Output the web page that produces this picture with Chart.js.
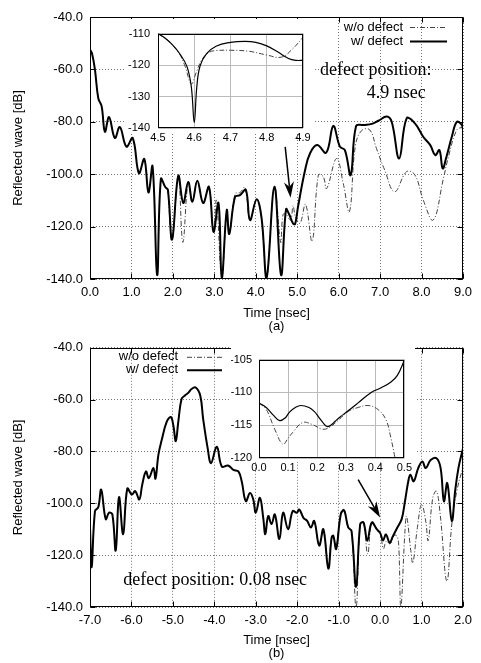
<!DOCTYPE html>
<html>
<head>
<meta charset="utf-8">
<script src="https://cdn.jsdelivr.net/npm/chart.js@4.4.0/dist/chart.umd.min.js"></script>
<style>
body { margin:0; background:#fff; width:481px; height:663px; position:relative; overflow:hidden; }
canvas { position:absolute; }
</style>
</head>
<body>
<canvas id="mainA" width="481" height="333" style="left:0px;top:0px"></canvas>
<canvas id="insetA" width="190" height="130" style="left:124px;top:19px"></canvas>
<canvas id="mainB" width="481" height="330" style="left:0px;top:333px"></canvas>
<canvas id="insetB" width="184" height="130" style="left:231px;top:346px"></canvas>
<script>
// (a) defect position 4.9 nsec
var aWithT = [0, 0.05, 0.12, 0.2, 0.28, 0.36, 0.46, 0.6, 0.72, 0.88, 1.03, 1.18, 1.31, 1.41, 1.51, 1.62, 1.71, 1.82, 1.88, 1.98, 2.13, 2.25, 2.37, 2.47, 2.59, 2.73, 2.87, 2.98, 3.1, 3.18, 3.3, 3.36, 3.5, 3.62, 3.76, 3.86, 4.02, 4.14, 4.26, 4.45, 4.61, 4.73, 4.81, 4.9, 4.95, 5.02, 5.19, 5.31, 5.48, 5.7, 5.87, 6.03, 6.15, 6.29, 6.42, 6.6, 6.8, 6.96, 7.16, 7.28, 7.46, 7.64, 7.84, 8.04, 8.21, 8.33, 8.43, 8.51, 8.59, 8.73, 8.85, 8.97, 9.0];
var aWithV = [-52.5, -54, -60.2, -71, -74, -83.8, -78.2, -86.2, -82, -89.5, -86.2, -99.6, -94.2, -107, -97, -138.5, -101.8, -105, -106, -125, -100.6, -111, -103, -110.5, -102.5, -111, -104.8, -122, -111, -139.6, -113.7, -122.8, -108.6, -108, -106, -117.5, -109.6, -116.8, -139.7, -104.8, -138.5, -113.4, -115.5, -118.8, -119, -112.4, -98.4, -92, -88.9, -91.8, -81.6, -89.5, -90.8, -100.3, -81.6, -81.2, -80.8, -79.6, -78, -80, -94, -78.7, -80.6, -85.7, -88.9, -92.7, -90.8, -97.8, -94, -85.7, -80, -81.2, -83];
var aWoT = [1.88, 1.98, 2.13, 2.24, 2.37, 2.47, 2.59, 2.73, 2.87, 2.98, 3.05, 3.18, 3.3, 3.36, 3.5, 3.62, 3.74, 3.86, 4.02, 4.14, 4.26, 4.45, 4.6, 4.66, 4.75, 4.8, 4.85, 4.9, 4.96, 5.07, 5.2, 5.36, 5.51, 5.63, 5.71, 5.95, 6.11, 6.26, 6.4, 6.55, 6.75, 6.91, 7.11, 7.35, 7.64, 7.84, 8.04, 8.28, 8.52, 8.65, 8.85, 9.0];
var aWoV = [-106, -125, -100.6, -126, -103, -110.5, -102.5, -111, -104.8, -122, -110, -139.6, -113.7, -122.8, -107.5, -107, -105, -117.5, -109.6, -116.8, -139.7, -104.8, -126, -115.3, -115.6, -117, -117.5, -112, -116.5, -118.7, -111.5, -125.5, -100.3, -101, -105.5, -94, -103.5, -114.3, -89.5, -83.4, -83.1, -90.1, -98.4, -106.7, -99, -100.3, -109.8, -117.5, -102.2, -93.3, -83.1, -82];
// (a) inset, 4.5 - 4.9 nsec
var aInWithT = [4.5, 4.52, 4.54, 4.56, 4.58, 4.592, 4.6, 4.607, 4.616, 4.634, 4.66, 4.7, 4.74, 4.77, 4.8, 4.83, 4.86, 4.88, 4.9];
var aInWithV = [-110, -111.5, -113.6, -116.4, -120.5, -127, -138.3, -127, -120.3, -116.4, -114, -112.8, -112.5, -112.8, -113.9, -115.8, -117.9, -118.5, -118.5];
var aInWoT = [4.5, 4.52, 4.54, 4.56, 4.575, 4.592, 4.605, 4.62, 4.64, 4.66, 4.7, 4.75, 4.8, 4.84, 4.87, 4.9];
var aInWoV = [-110, -111.5, -113.6, -116.6, -120.5, -126, -122.5, -118.5, -116, -115.4, -115.3, -115.6, -116.8, -117.5, -115, -111.2];

// (b) defect position 0.08 nsec
var bWithT = [-7.0, -6.96, -6.88, -6.8, -6.73, -6.62, -6.54, -6.46, -6.38, -6.3, -6.2, -6.1, -5.99, -5.91, -5.81, -5.74, -5.65, -5.58, -5.47, -5.42, -5.35, -5.27, -5.15, -5.05, -4.99, -4.93, -4.87, -4.79, -4.71, -4.63, -4.55, -4.45, -4.34, -4.27, -4.16, -4.08, -3.94, -3.82, -3.67, -3.54, -3.42, -3.34, -3.24, -3.14, -3.06, -3.0, -2.9, -2.82, -2.77, -2.7, -2.62, -2.54, -2.43, -2.34, -2.22, -2.11, -2.01, -1.95, -1.85, -1.76, -1.67, -1.59, -1.47, -1.37, -1.25, -1.17, -1.13, -1.06, -0.95, -0.87, -0.77, -0.69, -0.58, -0.48, -0.4, -0.31, -0.2, -0.08, 0.0, 0.07, 0.14, 0.23, 0.3, 0.41, 0.52, 0.6, 0.68, 0.73, 0.81, 0.92, 1.02, 1.1, 1.22, 1.36, 1.46, 1.54, 1.62, 1.73, 1.81, 1.89, 2.0];
var bWithV = [-109.3, -124.6, -103, -101.5, -94.7, -106.1, -103.6, -104.3, -118.2, -97.6, -111.9, -94.3, -96.6, -95.3, -98.5, -92.8, -87.7, -90.3, -86.4, -90.5, -81.3, -75.6, -68.6, -66.7, -69.9, -76, -68.6, -59.7, -58.4, -57.4, -55.9, -55.3, -58.4, -67.4, -78.8, -84.5, -78.2, -85.8, -85.4, -87.1, -87.7, -91.5, -99.2, -96, -98.5, -103.6, -97.9, -105.6, -111.9, -104.9, -108, -104.3, -113.8, -103.6, -110, -103, -103.6, -102.4, -105.6, -106.8, -109.3, -106.8, -116.3, -110, -125.2, -113.2, -112.5, -117.6, -104.3, -102.7, -109.3, -110.6, -132.2, -108, -107.4, -114.4, -107.4, -110, -111.4, -114.3, -112, -115.2, -113, -109.5, -106.1, -99.2, -91.5, -89, -91.5, -86.4, -83.9, -86.4, -83.3, -82.6, -86.4, -99.2, -92.2, -106.8, -95.3, -86.4, -78.8];
var bWoT = [-1.76, -1.67, -1.59, -1.47, -1.37, -1.25, -1.17, -1.1, -1.06, -0.95, -0.87, -0.77, -0.69, -0.58, -0.48, -0.4, -0.3, -0.2, -0.08, 0.0, 0.08, 0.15, 0.24, 0.34, 0.41, 0.45, 0.5, 0.6, 0.64, 0.74, 0.79, 0.9, 1.0, 1.1, 1.16, 1.27, 1.36, 1.45, 1.61, 1.73, 1.85, 2.0];
var bWoV = [-106.8, -109.3, -106.8, -116.3, -110, -124, -113.2, -114.4, -117.6, -103.6, -102.3, -109.3, -110.6, -140, -108, -107.4, -119.5, -107.4, -110.5, -111.6, -117.5, -114.6, -115.6, -112.3, -112.8, -116.5, -140, -110.6, -105, -118.2, -123, -109.3, -100.4, -106.8, -114.4, -97.9, -95.3, -104.3, -130, -108, -95.3, -86];
// (b) inset, 0.0 - 0.5 nsec
var bInWithT = [0, 0.025, 0.05, 0.071, 0.09, 0.105, 0.125, 0.144, 0.172, 0.19, 0.206, 0.22, 0.234, 0.25, 0.262, 0.28, 0.301, 0.341, 0.386, 0.42, 0.454, 0.476, 0.5];
var bInWithV = [-111.6, -112.3, -113.5, -114.3, -113.9, -113, -112.3, -112, -112.3, -112.9, -113.8, -114.6, -115.2, -114.9, -114.4, -113.7, -113, -111.6, -110, -109.3, -108.4, -107.4, -105.1];
var bInWoT = [0, 0.025, 0.054, 0.082, 0.1, 0.116, 0.15, 0.184, 0.217, 0.24, 0.274, 0.307, 0.341, 0.375, 0.409, 0.437, 0.454, 0.468];
var bInWoV = [-111.6, -112.6, -115.6, -117.9, -117, -116.1, -114.6, -114.9, -115.6, -115.4, -114.2, -112.9, -112.3, -112, -112.6, -114.2, -117, -120];

var sans = '"Liberation Sans", Arial, sans-serif';

function pts(xs, ys) {
  return xs.map(function(x, i) { return {x: x, y: ys[i]}; });
}

function solid(xs, ys, w) {
  return {data: pts(xs, ys), borderColor: '#000', borderWidth: w, pointRadius: 0, fill: false};
}
function dashed(xs, ys, w) {
  return {data: pts(xs, ys), borderColor: '#444', borderWidth: w, borderDash: [5, 2, 1, 2], pointRadius: 0, fill: false};
}

// frame, inner ticks, texts, legend, arrows
var deco = {
  id: 'deco',
  beforeDraw: function(chart, args, o) {
    if (!o.bg) return;
    var ctx = chart.ctx;
    ctx.save();
    ctx.fillStyle = '#fff';
    ctx.fillRect(o.bg[0], o.bg[1], o.bg[2], o.bg[3]);
    ctx.restore();
  },
  afterDraw: function(chart, args, o) {
    var ctx = chart.ctx, a = chart.chartArea;
    var sx = chart.scales.x, sy = chart.scales.y;
    var L = Math.round(a.left) + 0.5, R = Math.round(a.right) - 0.5;
    var T = Math.round(a.top) + 0.5, B = Math.round(a.bottom) - 0.5;
    ctx.save();
    ctx.strokeStyle = '#000';
    ctx.lineWidth = 1;
    ctx.setLineDash([]);
    ctx.strokeRect(L, T, R - L, B - T);
    if (o.tick) {
      ctx.beginPath();
      sx.ticks.forEach(function(t) {
        var x = Math.round(sx.getPixelForValue(t.value)) + 0.5;
        ctx.moveTo(x, B); ctx.lineTo(x, B - o.tick);
        ctx.moveTo(x, T); ctx.lineTo(x, T + o.tick);
      });
      sy.ticks.forEach(function(t) {
        var y = Math.round(sy.getPixelForValue(t.value)) + 0.5;
        ctx.moveTo(L, y); ctx.lineTo(L + o.tick, y);
        ctx.moveTo(R, y); ctx.lineTo(R - o.tick, y);
      });
      ctx.stroke();
    }
    ctx.fillStyle = '#000';
    ctx.textBaseline = 'alphabetic';
    (o.texts || []).forEach(function(t) {
      ctx.font = '18px "Liberation Serif", "Times New Roman", serif';
      ctx.textAlign = 'left';
      ctx.fillText(t[0], sx.getPixelForValue(t[1]), sy.getPixelForValue(t[2]));
    });
    (o.legend || []).forEach(function(g) {
      var y = a.top + g.dy;
      ctx.font = '13px ' + sans;
      ctx.textAlign = 'right';
      ctx.textBaseline = 'middle';
      ctx.fillText(g.text, g.x, y);
      ctx.beginPath();
      ctx.lineWidth = g.w;
      ctx.strokeStyle = g.dash ? '#444' : '#000';
      ctx.setLineDash(g.dash ? [5, 2, 1, 2] : []);
      ctx.moveTo(g.x0, y + 0.5); ctx.lineTo(g.x1, y + 0.5);
      ctx.stroke();
    });
    ctx.setLineDash([]);
    (o.arrows || []).forEach(function(ar) {
      var x0 = sx.getPixelForValue(ar[0]), y0 = sy.getPixelForValue(ar[1]);
      var x1 = sx.getPixelForValue(ar[2]), y1 = sy.getPixelForValue(ar[3]);
      var an = Math.atan2(y1 - y0, x1 - x0), c = Math.cos(an), s = Math.sin(an);
      var hl = 16, hw = 5;
      ctx.strokeStyle = '#000';
      ctx.lineWidth = 1.5;
      ctx.beginPath();
      ctx.moveTo(x0, y0); ctx.lineTo(x1 - c * hl * 0.7, y1 - s * hl * 0.7);
      ctx.stroke();
      ctx.beginPath();
      ctx.moveTo(x1, y1);
      ctx.lineTo(x1 - c * hl - s * hw, y1 - s * hl + c * hw);
      ctx.lineTo(x1 - c * hl * 0.7, y1 - s * hl * 0.7);
      ctx.lineTo(x1 - c * hl + s * hw, y1 - s * hl - c * hw);
      ctx.closePath();
      ctx.fill();
    });
    ctx.restore();
  }
};

function makeChart(id, sets, c) {
  return new Chart(document.getElementById(id), {
    type: 'line',
    data: {datasets: sets},
    options: {
      responsive: false,
      animation: false,
      devicePixelRatio: 1,
      layout: {padding: c.pad},
      elements: {line: {tension: 0.4}, point: {radius: 0}},
      plugins: {legend: {display: false}, tooltip: {enabled: false}, deco: c.deco},
      scales: {
        x: {
          type: 'linear', min: c.x[0], max: c.x[1],
          ticks: {stepSize: c.x[2], autoSkip: false, maxRotation: 0, padding: c.xPad, color: '#000',
                  font: {family: sans, size: c.fs}, callback: function(v) { return v.toFixed(1); }},
          grid: {color: c.gridColor, lineWidth: 1, drawTicks: false},
          border: {display: false, dash: c.dash},
          title: c.xTitle ? {display: true, text: c.xTitle, color: '#000', font: {family: sans, size: 13, lineHeight: 1}, padding: {top: 0, bottom: c.xTitlePad}} : {display: false},
          afterFit: function(s) { s.height = c.xH; }
        },
        y: {
          min: c.y[0], max: c.y[1],
          ticks: {stepSize: c.y[2], padding: c.yPad, color: '#000',
                  font: {family: sans, size: c.fs}, callback: function(v) { return c.yFix ? v.toFixed(1) : String(Math.round(v)); }},
          grid: {color: c.gridColor, lineWidth: 1, drawTicks: false},
          border: {display: false, dash: c.dash},
          title: c.yTitle ? {display: true, text: c.yTitle, color: '#000', font: {family: sans, size: 13, lineHeight: 1}, padding: {top: 12, bottom: 0}} : {display: false},
          afterFit: function(s) { s.width = c.yW; }
        }
      }
    },
    plugins: [deco]
  });
}

makeChart('mainA', [solid(aWithT, aWithV, 2), dashed(aWoT, aWoV, 1)], {
  pad: {left: 0, right: 18, top: 17, bottom: 0},
  x: [0, 9, 1], y: [-140, -40, 20], yFix: true, fs: 13, xPad: 6, yPad: 7,
  gridColor: '#777', dash: [1, 2], xH: 54, yW: 90,
  xTitle: ['Time [nsec]', '(a)'], xTitlePad: 0, yTitle: 'Reflected wave [dB]',
  deco: {
    tick: 5,
    texts: [['defect position:', 5.55, -62.1], ['4.9 nsec', 6.68, -70.9]],
    legend: [
      {text: 'w/o defect', x: 403, dy: 10, x0: 410, x1: 447, w: 1, dash: true},
      {text: 'w/ defect', x: 403, dy: 24, x0: 410, x1: 447, w: 2, dash: false}
    ],
    arrows: [[4.71, -89.6, 4.84, -109]]
  }
});

makeChart('insetA', [solid(aInWithT, aInWithV, 1.2), dashed(aInWoT, aInWoV, 1)], {
  pad: {left: 0, right: 11, top: 6, bottom: 0},
  x: [4.5, 4.9, 0.1], y: [-140, -110, 10], yFix: false, fs: 11, xPad: 3, yPad: 8,
  gridColor: '#bbb', dash: [], xH: 21, yW: 34,
  deco: {bg: [2, 0, 188, 113]}
});

makeChart('mainB', [solid(bWithT, bWithV, 2), dashed(bWoT, bWoV, 1)], {
  pad: {left: 0, right: 18, top: 12, bottom: 0},
  x: [-7, 2, 1], y: [-140, -40, 20], yFix: true, fs: 13, xPad: 6, yPad: 7,
  gridColor: '#777', dash: [1, 2], xH: 56, yW: 90,
  xTitle: ['Time [nsec]', '(b)'], xTitlePad: 3.5, yTitle: 'Reflected wave [dB]',
  deco: {
    tick: 5,
    texts: [['defect position: 0.08 nsec', -6.2, -131.6]],
    legend: [
      {text: 'w/o defect', x: 178, dy: 9, x0: 187, x1: 222, w: 1, dash: true},
      {text: 'w/ defect', x: 178, dy: 22, x0: 187, x1: 222, w: 2, dash: false}
    ],
    arrows: [[-0.53, -90.9, 0.0, -105.5]]
  }
});

makeChart('insetB', [solid(bInWithT, bInWithV, 1.2), dashed(bInWoT, bInWoV, 1)], {
  pad: {left: 0, right: 8, top: 5, bottom: 0},
  x: [0, 0.5, 0.1], y: [-120, -105, 5], yFix: false, fs: 11, xPad: 3, yPad: 7,
  gridColor: '#bbb', dash: [], xH: 18, yW: 28,
  deco: {bg: [0, 0, 184, 116]}
});
</script>
</body>
</html>
